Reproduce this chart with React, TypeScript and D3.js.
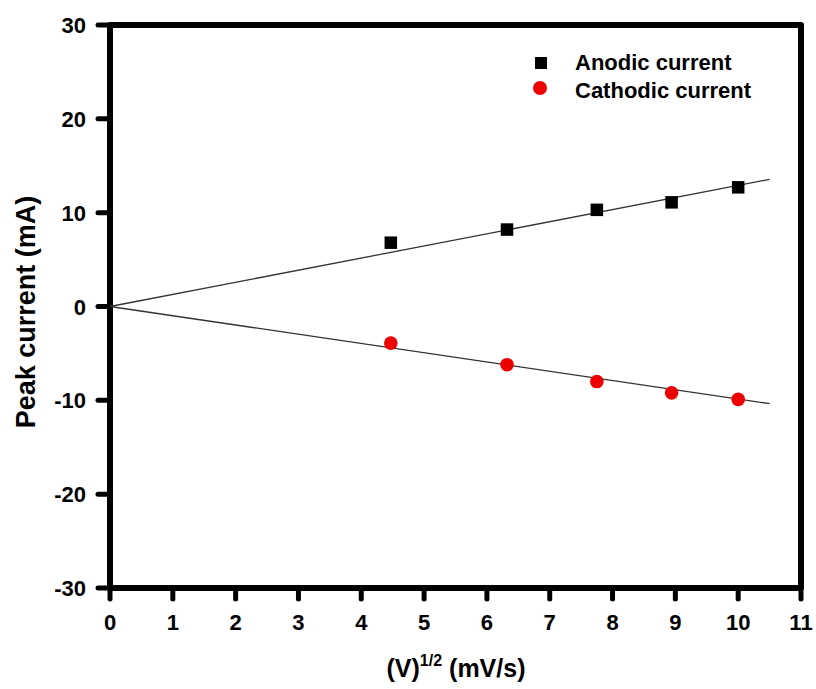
import React from "react";
import * as d3 from "d3";

const xValues = [4.47, 6.32, 7.75, 8.94, 10.0];
const anodic = [6.8, 8.2, 10.3, 11.1, 12.7];
const cathodic = [-3.9, -6.2, -8.0, -9.2, -9.9];
const fitX = [0, 10.5];
const anodicFit = [0, 13.55];
const cathodicFit = [0, -10.35];
const xTicks = [0, 1, 2, 3, 4, 5, 6, 7, 8, 9, 10, 11];
const yTicks = [-30, -20, -10, 0, 10, 20, 30];

const W = 816;
const H = 689;
const M = { left: 110, right: 801, top: 25, bottom: 588 };
const FONT = "Arial, 'Liberation Sans', Helvetica, sans-serif";

export default function App() {
  const x = d3.scaleLinear().domain([0, 11]).range([M.left, M.right]);
  const y = d3.scaleLinear().domain([-30, 30]).range([M.bottom, M.top]);
  const line = d3
    .line<[number, number]>()
    .x((d) => x(d[0]))
    .y((d) => y(d[1]));
  const aFit = line(fitX.map((v, i) => [v, anodicFit[i]] as [number, number]));
  const cFit = line(fitX.map((v, i) => [v, cathodicFit[i]] as [number, number]));
  const sq = 12.5;

  return (
    <svg
      width={W}
      height={H}
      style={{ position: "absolute", left: 0, top: 0, background: "#fff" }}
      fontFamily={FONT}
    >
      <rect x={0} y={0} width={W} height={H} fill="#fff" />
      {/* ticks */}
      {xTicks.map((t) => (
        <line
          key={"xt" + t}
          x1={x(t)}
          x2={x(t)}
          y1={M.bottom}
          y2={M.bottom + 11}
          stroke="#000"
          strokeWidth={5}
          strokeLinecap="round"
        />
      ))}
      {yTicks.map((t) => (
        <line
          key={"yt" + t}
          x1={M.left - 12}
          x2={M.left}
          y1={y(t)}
          y2={y(t)}
          stroke="#000"
          strokeWidth={5}
          strokeLinecap="round"
        />
      ))}
      {/* frame */}
      <rect
        x={M.left}
        y={M.top}
        width={M.right - M.left}
        height={M.bottom - M.top}
        fill="none"
        stroke="#000"
        strokeWidth={6}
        strokeLinejoin="round"
      />
      {/* tick labels */}
      {xTicks.map((t) => (
        <text
          key={"xl" + t}
          x={x(t)}
          y={630}
          textAnchor="middle"
          fontSize={22}
          fontWeight="bold"
        >
          {t}
        </text>
      ))}
      {yTicks.map((t) => (
        <text
          key={"yl" + t}
          x={86}
          y={y(t) + 8}
          textAnchor="end"
          fontSize={22}
          fontWeight="bold"
        >
          {t}
        </text>
      ))}
      {/* axis titles */}
      <text x={456} y={677} textAnchor="middle" fontSize={25} fontWeight="bold">
        (V)
        <tspan dy={-11} fontSize={16}>
          1/2
        </tspan>
        <tspan dy={11}> (mV/s)</tspan>
      </text>
      <text
        transform={`translate(35, 312) rotate(-90)`}
        textAnchor="middle"
        fontSize={27}
        fontWeight="bold"
      >
        Peak current (mA)
      </text>
      {/* fit lines */}
      <path d={aFit ?? ""} fill="none" stroke="#333" strokeWidth={1.3} />
      <path d={cFit ?? ""} fill="none" stroke="#333" strokeWidth={1.3} />
      {/* data */}
      {xValues.map((v, i) => (
        <rect
          key={"a" + i}
          x={x(v) - sq / 2}
          y={y(anodic[i]) - sq / 2}
          width={sq}
          height={sq}
          fill="#000"
        />
      ))}
      {xValues.map((v, i) => (
        <circle key={"c" + i} cx={x(v)} cy={y(cathodic[i])} r={6.8} fill="#ee0000" />
      ))}
      {/* legend */}
      <rect x={535} y={57} width={12} height={12} fill="#000" />
      <circle cx={540} cy={88} r={7} fill="#ee0000" />
      <text x={575} y={70} fontSize={22} fontWeight="bold">
        Anodic current
      </text>
      <text x={575} y={98} fontSize={22} fontWeight="bold">
        Cathodic current
      </text>
    </svg>
  );
}
